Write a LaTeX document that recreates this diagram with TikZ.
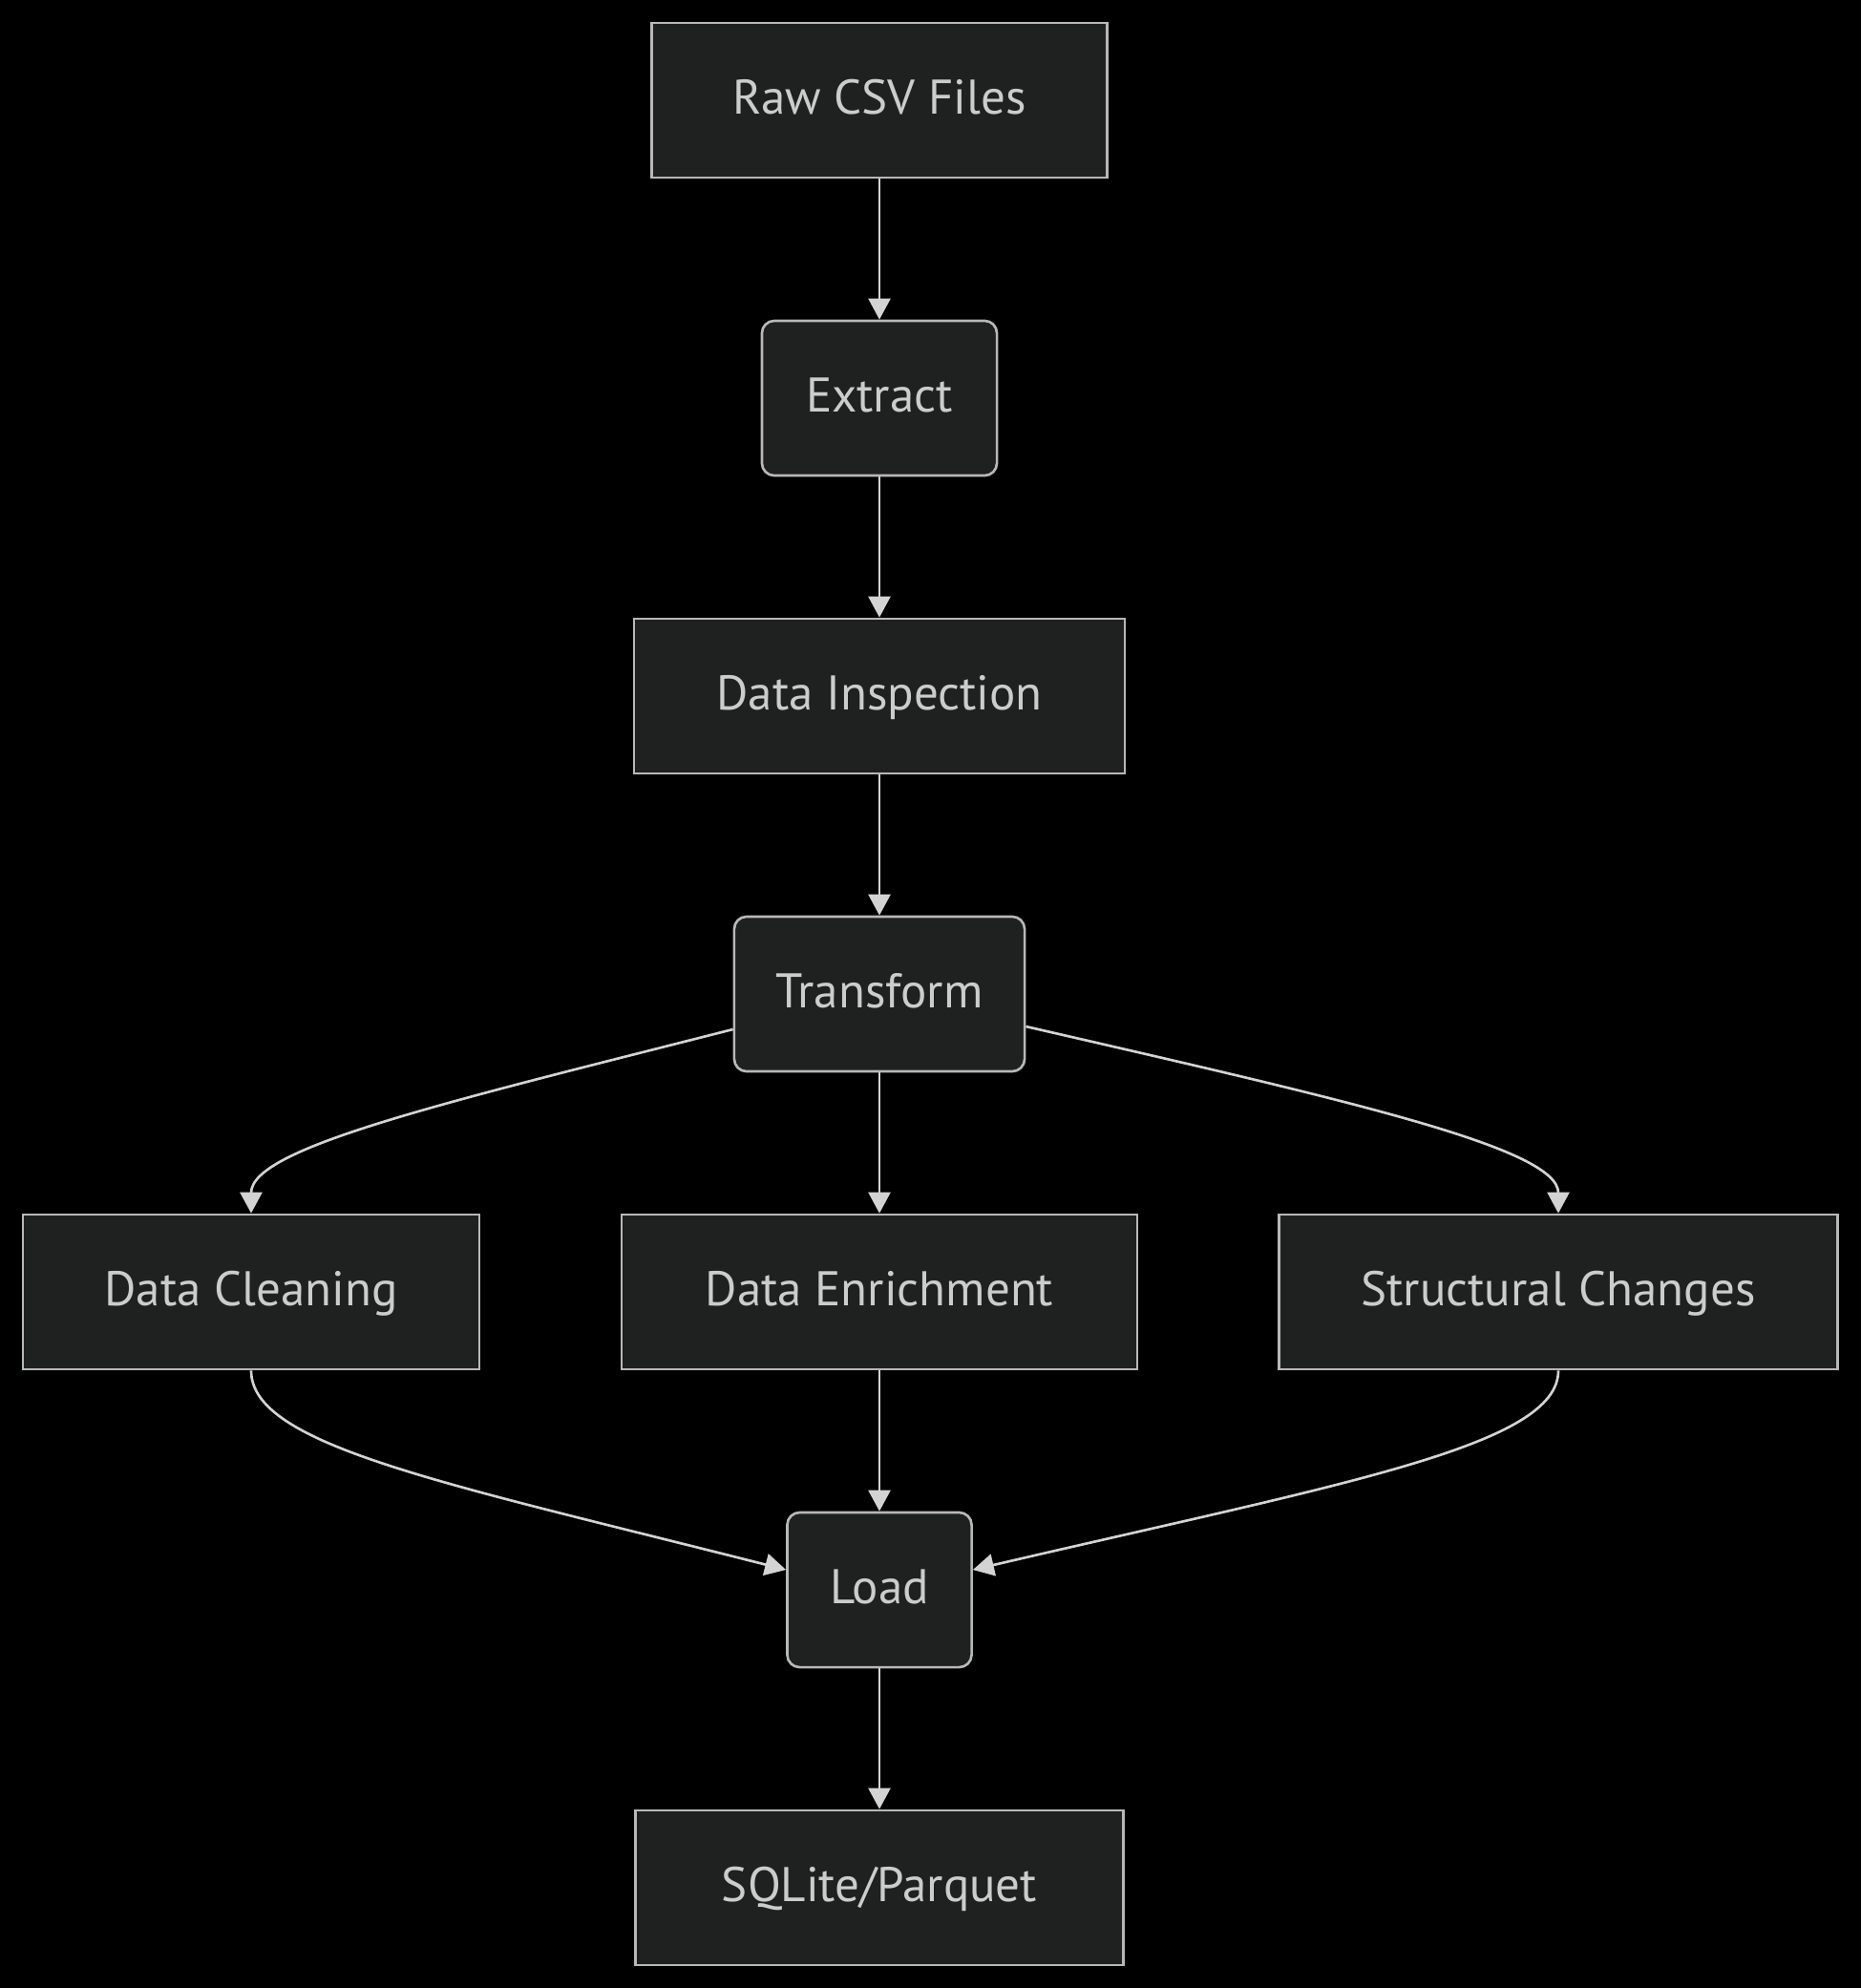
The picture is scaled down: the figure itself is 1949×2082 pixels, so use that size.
\documentclass[tikz,border=0pt]{standalone}
\usepackage{fontspec}
\setmainfont{PT Sans}
\usepackage{xcolor}
\usepackage{tikz}
\usetikzlibrary{arrows.meta}
\definecolor{bg}{HTML}{000000}
\definecolor{boxfill}{HTML}{1F2020}
\definecolor{boxline}{HTML}{B8B8B8}
\definecolor{text}{HTML}{CCCCCC}
\definecolor{edge}{HTML}{D3D3D3}
\tikzset{
  box/.style={draw=boxline, fill=boxfill, line width=0.75pt, text=text,
    font=\fontsize{14.5}{17}\selectfont, text height=1.1em, text depth=0.25em,
    minimum height=1.62cm, minimum width=#1, inner sep=0pt},
  rbox/.style={box=#1, rounded corners=1.3mm},
  flow/.style={draw=edge, line width=0.75pt, -{Triangle[length=2.2mm,width=2.3mm]}},
}

\begin{document}
\begin{tikzpicture}[x=0.01cm,y=-0.01cm]
  \fill[bg] (0,0) rectangle (1949,2082);
  \useasboundingbox (0,0) rectangle (1949,2082);
  \node[box=4.77cm] (raw) at (921,105) {Raw CSV Files};
  \node[rbox=2.46cm] (extract) at (921,417) {Extract};
  \node[box=5.14cm] (inspect) at (921,729) {Data Inspection};
  \node[rbox=3.04cm] (transform) at (921,1041) {Transform};
  \node[box=4.78cm] (clean) at (263,1353) {Data Cleaning};
  \node[box=5.40cm] (enrich) at (921,1353) {Data Enrichment};
  \node[box=5.85cm] (struct) at (1632,1353) {Structural Changes};
  \node[rbox=1.93cm] (load) at (921,1665) {Load};
  \node[box=5.11cm] (store) at (921,1977) {SQLite/Parquet};
  \foreach \A/\B in {raw/extract,extract/inspect,inspect/transform,transform/enrich,enrich/load,load/store}
    \draw[flow] (\A) -- (\B);
  \draw[flow] (transform.west |- 0,1078) .. controls (465,1155) and (263,1202) .. (clean.north);
  \draw[flow] (transform.east |- 0,1075) .. controls (1409,1152) and (1632,1202) .. (struct.north);
  \draw[flow] (clean.south) .. controls (263,1514) and (465,1553) .. (load.west |- 0,1644);
  \draw[flow] (struct.south) .. controls (1632,1514) and (1409,1553) .. (load.east |- 0,1644);
\end{tikzpicture}
\end{document}
